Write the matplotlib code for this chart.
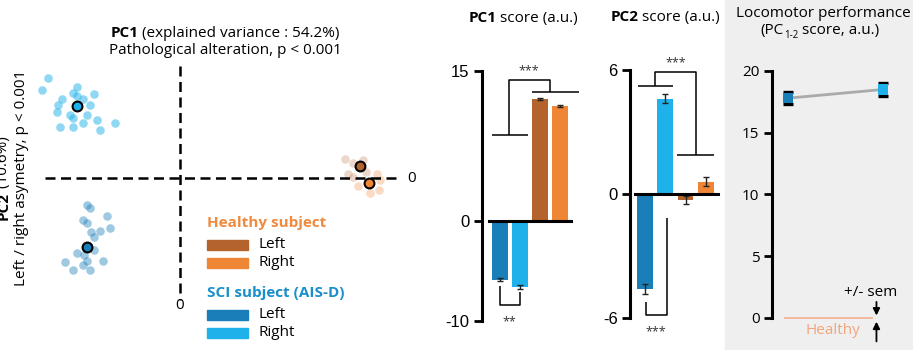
import matplotlib
matplotlib.use("Agg")
import matplotlib.pyplot as plt
import matplotlib.transforms as mtransforms
from matplotlib.patches import Rectangle

plt.rcParams["font.family"] = "Open Sans"
plt.rcParams["axes.unicode_minus"] = False

W, H = 913, 350
FS = 11

# colours
SCI_L, SCI_R = "#1a7fb8", "#1fb2ea"
HEA_L, HEA_R = "#b5632c", "#ef8636"

# --- PCA space: individual gait cycles and subject means (PC1, PC2) ---
sci_right_pts = [(-9.1, 6.7), (-9.5, 5.9), (-7.1, 6.1), (-5.9, 5.6), (-8.1, 5.3),
                 (-7.4, 5.7), (-6.7, 5.3), (-8.4, 4.9), (-6.2, 4.9), (-8.5, 4.4),
                 (-7.4, 4.0), (-6.7, 3.7), (-5.7, 3.9), (-4.5, 3.7), (-8.3, 3.4),
                 (-7.4, 3.4), (-5.5, 3.2), (-6.4, 4.2), (-7.6, 4.2), (-7.1, 5.5)]
sci_left_pts = [(-6.4, -1.8), (-6.2, -2.0), (-5.0, -2.5), (-6.7, -2.8), (-6.4, -3.0),
                (-4.8, -3.3), (-5.5, -3.5), (-6.1, -3.6), (-5.9, -3.9), (-5.9, -4.8),
                (-7.1, -5.0), (-6.6, -5.1), (-7.9, -5.6), (-6.4, -5.5), (-5.3, -5.5),
                (-7.4, -6.1), (-6.2, -6.1), (-6.7, -5.8)]
healthy_left_pts = [(11.4, 1.3), (11.9, 1.0), (11.6, 0.3), (12.6, 1.2), (11.9, 0.1), (12.8, 0.4)]
healthy_right_pts = [(13.6, 0.3), (13.8, -0.1), (12.3, -0.5), (13.7, -0.8), (13.1, -1.0)]
mean_sci_right = (-7.1, 4.8)
mean_sci_left = (-6.4, -4.6)
mean_healthy_left = (12.4, 0.8)
mean_healthy_right = (13.0, -0.3)

# --- PC scores (mean +/- sem) ---
groups = ["SCI left", "SCI right", "Healthy left", "Healthy right"]
bar_colors = [SCI_L, SCI_R, HEA_L, HEA_R]
pc1_score = [-5.9, -6.6, 12.2, 11.5]
pc1_sem = [0.15, 0.2, 0.12, 0.12]
pc2_score = [-4.6, 4.6, -0.3, 0.6]
pc2_sem = [0.25, 0.22, 0.2, 0.2]

# --- locomotor performance ---
loco_x = [0, 1]
loco_score = [17.8, 18.5]
loco_sem = [0.5, 0.5]
loco_colors = [SCI_L, SCI_R]
healthy_level = 0

fig = plt.figure(figsize=(W / 100, H / 100), dpi=100)
px = mtransforms.Affine2D().scale(1 / W, -1 / H).translate(0, 1) + fig.transFigure
renderer = fig.canvas.get_renderer()


def rect(x0, y0, x1, y1):
    return [x0 / W, 1 - y1 / H, (x1 - x0) / W, (y1 - y0) / H]


def rich_text(x, y, parts, ha="center", **kw):
    """Consecutive pieces (string, weight, size, dy) on one baseline."""
    texts = []
    for s, weight, size, dy in parts:
        t = fig.text(0, y + dy, s, fontweight=weight, fontsize=size, transform=px,
                     ha="left", va="baseline", **kw)
        texts.append(t)
    widths = [t.get_window_extent(renderer).width for t in texts]
    pos = x - sum(widths) / 2 if ha == "center" else x
    for t, w in zip(texts, widths):
        t.set_x(pos)
        pos += w


def rich_vtext(x, y, parts, **kw):
    """Vertical (rotated 90) version, centred on y."""
    texts = [fig.text(0, 0, s, fontweight=weight, fontsize=FS, transform=px,
                      rotation=90, ha="center", va="bottom", **kw)
             for s, weight in parts]
    lengths = [t.get_window_extent(renderer).height for t in texts]
    pos = y + sum(lengths) / 2
    for t, L in zip(texts, lengths):
        t.set_position((x, pos))
        pos -= L


# grey backdrop behind the locomotor panel
fig.patches.append(Rectangle((725, 0), W - 725, H, transform=px, color="#efefef",
                             zorder=-10))

# ---------------- PCA scatter ----------------
ax = fig.add_axes(rect(30, 55, 430, 315))
ax.set_xlim(-10.34, 17.24)
ax.set_ylim(-9.13, 8.2)
ax.axis("off")
dash = dict(color="black", lw=1.8, linestyle=(0, (4, 2.2)))
ax.plot([-9.3, 15.2], [0, 0], **dash)
ax.plot([0, 0], [7.5, -8.1], **dash)
ax.text(16.0, 0, "0", ha="center", va="center", fontsize=FS)
ax.text(0, -8.5, "0", ha="center", va="center", fontsize=FS)

for pts, c, a in [(sci_right_pts, SCI_R, 0.5), (sci_left_pts, SCI_L, 0.42),
                  (healthy_left_pts, HEA_L, 0.25), (healthy_right_pts, HEA_R, 0.3)]:
    ax.scatter([p[0] for p in pts], [p[1] for p in pts], s=38, color=c,
               alpha=a, linewidths=0)
for m, c in [(mean_sci_right, SCI_R), (mean_sci_left, SCI_L),
             (mean_healthy_left, HEA_L), (mean_healthy_right, HEA_R)]:
    ax.scatter(m[0], m[1], s=50, color=c, edgecolors="black", linewidths=1.5, zorder=3)

rich_text(225, 37, [("PC1", "bold", FS, 0), (" (explained variance : 54.2%)", "normal", FS, 0)])
fig.text(225, 54, "Pathological alteration, p < 0.001", transform=px, ha="center",
         va="baseline", fontsize=FS)
rich_vtext(4, 178, [("PC2", "bold"), (" (10.6%)", "normal")])
fig.text(22, 178, "Left / right asymetry, p < 0.001", transform=px, ha="center",
         va="center", rotation=90, fontsize=FS)

# legend
fig.text(207, 223, "Healthy subject", transform=px, color="#ef8a3e", fontweight="bold",
         va="center", fontsize=FS)
fig.text(207, 293, "SCI subject (AIS-D)", transform=px, color="#1b8fca", fontweight="bold",
         va="center", fontsize=FS)
for y, c, lab in [(245, HEA_L, "Left"), (263, HEA_R, "Right"),
                  (315, SCI_L, "Left"), (333, SCI_R, "Right")]:
    fig.patches.append(Rectangle((207, y - 5), 41, 10, transform=px, color=c))
    fig.text(258, y, lab, transform=px, va="center", fontsize=FS)


# ---------------- PC score bars ----------------
def score_panel(r, xlim, ylim, ticks, scores, sems):
    a = fig.add_axes(r)
    x = range(len(scores))
    a.bar(x, scores, width=0.78, color=bar_colors, zorder=2)
    a.errorbar(x, scores, yerr=sems, fmt="none", ecolor="#222222", elinewidth=1,
               capsize=2.5, capthick=1, zorder=3)
    a.set_xlim(*xlim)
    a.set_ylim(*ylim)
    for s in ["top", "right", "bottom"]:
        a.spines[s].set_visible(False)
    a.spines["left"].set_linewidth(2.2)
    a.spines["left"].set_bounds(ticks[0], ticks[-1])
    a.set_yticks(ticks)
    a.set_xticks([])
    a.tick_params(axis="y", length=6, width=2, labelsize=12, pad=3)
    for lab in a.get_yticklabels():
        lab.set_fontfamily("Liberation Sans")
    a.patch.set_alpha(0)
    return a


br = dict(color="black", lw=1.1, solid_capstyle="butt")
star = dict(ha="center", fontsize=9, color="#333333")

ax1 = score_panel(rect(482, 50.7, 586, 335.7), (-0.9, 4.3), (-11.5, 17),
                  [-10, 0, 15], pc1_score, pc1_sem)
ax1.plot([-0.55, 3.55], [0, 0], color="black", lw=2.2, zorder=4)
ax1.plot([-0.4, 1.4], [8.6, 8.6], **br)
ax1.plot([1.6, 3.95], [12.9, 12.9], **br)
ax1.plot([0.45, 0.45, 2.5, 2.5], [8.6, 14.1, 14.1, 12.9], **br)
ax1.text(1.45, 15.0, "***", va="center", **star)
ax1.plot([0, 0, 1, 1], [-6.5, -8.4, -8.4, -7.1], **br)
ax1.text(0.45, -10.1, "**", va="center", **star)
rich_text(523, 22, [("PC1", "bold", FS, 0), (" score (a.u.)", "normal", FS, 0)])

ax2 = score_panel(rect(630, 49, 722, 334.8), (-0.74, 3.8), (-6.8, 7),
                  [-6, 0, 6], pc2_score, pc2_sem)
ax2.plot([-0.5, 3.6], [0, 0], color="black", lw=2.2, zorder=4)
ax2.plot([-0.35, 1.4], [5.2, 5.2], **br)
ax2.plot([1.6, 3.4], [1.9, 1.9], **br)
ax2.plot([0.5, 0.5, 2.5, 2.5], [5.2, 5.9, 5.9, 1.9], **br)
ax2.text(1.5, 6.0, "***", va="bottom", **star)
ax2.plot([0.05, 0.05, 1.08, 1.08], [-5.2, -5.85, -5.85, -1.15], **br)
ax2.text(0.55, -6.65, "***", va="center", **star)
rich_text(665, 21, [("PC2", "bold", FS, 0), (" score (a.u.)", "normal", FS, 0)])

# ---------------- locomotor performance ----------------
ax3 = fig.add_axes(rect(772, 58.6, 905, 340.2))
ax3.patch.set_alpha(0)
ax3.set_xlim(-0.168, 1.23)
ax3.set_ylim(-1.8, 21)
ax3.plot(loco_x, loco_score, color="#aaaaaa", lw=2, zorder=2)
ax3.errorbar(loco_x, loco_score, yerr=loco_sem, fmt="none", ecolor="black",
             elinewidth=1.2, capsize=3.6, capthick=2.4, zorder=3)
ax3.scatter(loco_x, loco_score, marker="s", s=58, color=loco_colors, zorder=4,
            linewidths=0)
ax3.plot([-0.03, 0.88], [healthy_level, healthy_level], color="#f5b496", lw=1.3)
ax3.text(0.47, -1.0, "Healthy", color="#f2a57d", ha="center", va="center", fontsize=FS)
arrow = dict(arrowstyle="-|>,head_length=0.4,head_width=0.2", color="black", lw=1.3,
             shrinkA=0, shrinkB=0)
ax3.annotate("", xy=(0.93, 0.2), xytext=(0.93, 1.3), arrowprops=arrow)
ax3.annotate("", xy=(0.93, -0.3), xytext=(0.93, -1.9), arrowprops=arrow,
             annotation_clip=False)
ax3.text(0.87, 2.1, "+/- sem", ha="center", va="center", fontsize=FS)
for s in ["top", "right", "bottom"]:
    ax3.spines[s].set_visible(False)
ax3.spines["left"].set_linewidth(2.2)
ax3.spines["left"].set_bounds(0, 20)
ax3.set_yticks([0, 5, 10, 15, 20])
ax3.set_xticks([])
ax3.tick_params(axis="y", length=6, width=2, labelsize=FS, pad=3)
fig.text(823, 17, "Locomotor performance", transform=px, ha="center", va="baseline",
         fontsize=FS)
rich_text(820, 34, [("(PC", "normal", FS, 0), ("1-2", "normal", 7, 4),
                    (" score, a.u.)", "normal", FS, 0)])

fig.savefig("out.png", dpi=100)
